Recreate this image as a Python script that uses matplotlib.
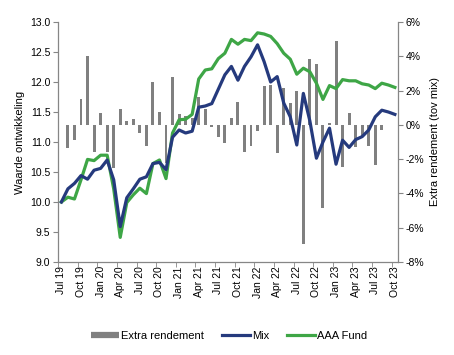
import numpy as np
import matplotlib
matplotlib.use('Agg')
import matplotlib.pyplot as plt
from matplotlib.lines import Line2D
from matplotlib.ticker import FixedLocator, FuncFormatter

plt.rcParams['font.family'] = ['Liberation Sans', 'DejaVu Sans']

# monthly values Jul 19 .. Oct 23
mix = [10.00, 10.22, 10.31, 10.44, 10.38, 10.53, 10.56, 10.70, 10.37, 9.59,
       10.07, 10.22, 10.38, 10.42, 10.64, 10.66, 10.54, 11.08, 11.20, 11.15,
       11.18, 11.58, 11.60, 11.64, 11.88, 12.12, 12.26, 12.03, 12.26, 12.42,
       12.62, 12.34, 12.00, 12.09, 11.65, 11.42, 10.95, 11.81, 11.35, 10.73,
       11.00, 11.23, 10.63, 11.03, 10.91, 11.04, 11.09, 11.20, 11.42, 11.53,
       11.50, 11.46]
aaa_fund = [10.00, 10.08, 10.05, 10.37, 10.71, 10.69, 10.78, 10.78, 10.22, 9.41,
            9.99, 10.12, 10.23, 10.14, 10.64, 10.70, 10.39, 11.15, 11.37, 11.38,
            11.46, 12.05, 12.20, 12.22, 12.39, 12.48, 12.71, 12.63, 12.71, 12.69,
            12.82, 12.80, 12.76, 12.64, 12.48, 12.38, 12.13, 12.23, 12.17, 11.98,
            11.71, 11.94, 11.89, 12.04, 12.02, 12.02, 11.97, 11.95, 11.89, 11.98,
            11.95, 11.91]
extra = [0.0, -1.37, -0.90, 1.50, 4.03, -1.56, 0.69, -1.56, -2.54, 0.92,
         0.22, 0.35, -0.45, -1.21, 2.50, 0.75, -2.20, 2.79, 0.63, 0.53,
         0.39, 1.62, 0.92, -0.15, -0.68, -1.03, 0.40, 1.34, -1.56, -1.21,
         -0.33, 2.27, 2.33, -1.62, 2.16, 1.28, 2.00, -6.97, 3.86, 3.55,
         -4.83, 0.10, 4.87, -2.43, 0.68, -1.32, -0.68, -1.26, -2.33, -0.29,
         0.0, 0.0]
tick_labels = ['Jul 19', 'Oct 19', 'Jan 20', 'Apr 20', 'Jul 20', 'Oct 20',
               'Jan 21', 'Apr 21', 'Jul 21', 'Oct 21', 'Jan 22', 'Apr 22',
               'Jul 22', 'Oct 22', 'Jan 23', 'Apr 23', 'Jul 23', 'Oct 23']

c_mix = '#253a7d'
c_aaa = '#3ea646'
c_bar = '#808080'
c_axis = '#868686'
fs = 7.5

x = np.arange(len(mix))

fig = plt.figure(figsize=(4.54, 3.55), dpi=100)
ax = fig.add_axes([0.128, 0.262, 0.749, 0.676])
ax2 = ax.twinx()

ax2.bar(x, extra, width=0.45, color=c_bar, zorder=1)
ax.plot(x, mix, color=c_mix, lw=2.3, zorder=3)
ax.plot(x, aaa_fund, color=c_aaa, lw=2.3, zorder=2)

ax.set_zorder(ax2.get_zorder() + 1)
ax.patch.set_visible(False)

ax.set_xlim(-0.5, len(mix) - 0.5)
ax.set_ylim(9.0, 13.0)
ax2.set_ylim(-8, 6)

ax.set_yticks(np.arange(9.0, 13.01, 0.5))
ax.yaxis.set_major_formatter(FuncFormatter(lambda v, p: '%.1f' % v))
ax2.set_yticks(np.arange(-8, 6.1, 2))
ax2.yaxis.set_major_formatter(FuncFormatter(lambda v, p: '%d%%' % round(v)))

ax.set_xticks(np.arange(0, len(mix), 3))
ax.set_xticklabels(tick_labels, rotation=90, fontsize=fs)
ax.xaxis.set_minor_locator(FixedLocator(np.arange(-0.5, len(mix), 3)))
ax.tick_params(axis='x', which='major', length=0, pad=3)
ax.tick_params(axis='x', which='minor', length=3.5, color=c_axis, direction='out')
ax.tick_params(axis='y', labelsize=fs, length=3.5, color=c_axis, pad=2)
ax2.tick_params(axis='y', labelsize=fs, length=3.5, color=c_axis, pad=2)

for a in (ax, ax2):
    a.spines['top'].set_visible(False)
    for s in ('left', 'right', 'bottom'):
        a.spines[s].set_color(c_axis)
        a.spines[s].set_linewidth(0.9)
ax.spines['right'].set_visible(False)
ax2.spines['left'].set_visible(False)
ax2.spines['bottom'].set_visible(False)

ax.set_ylabel('Waarde ontwikkeling', fontsize=8, labelpad=4)
ax2.set_ylabel('Extra rendement (tov mix)', fontsize=8, labelpad=4)

handles = [Line2D([], [], color=c_bar, lw=4.5, solid_capstyle='butt'),
           Line2D([], [], color=c_mix, lw=2.3),
           Line2D([], [], color=c_aaa, lw=2.3)]
fig.legend(handles, ['Extra rendement', 'Mix', 'AAA Fund'], loc='center',
           bbox_to_anchor=(0.505, 0.054), ncol=3, frameon=False, fontsize=fs + 0.5,
           handlelength=2.5, handletextpad=0.2, columnspacing=1.6)

fig.savefig('out.png', dpi=100)
